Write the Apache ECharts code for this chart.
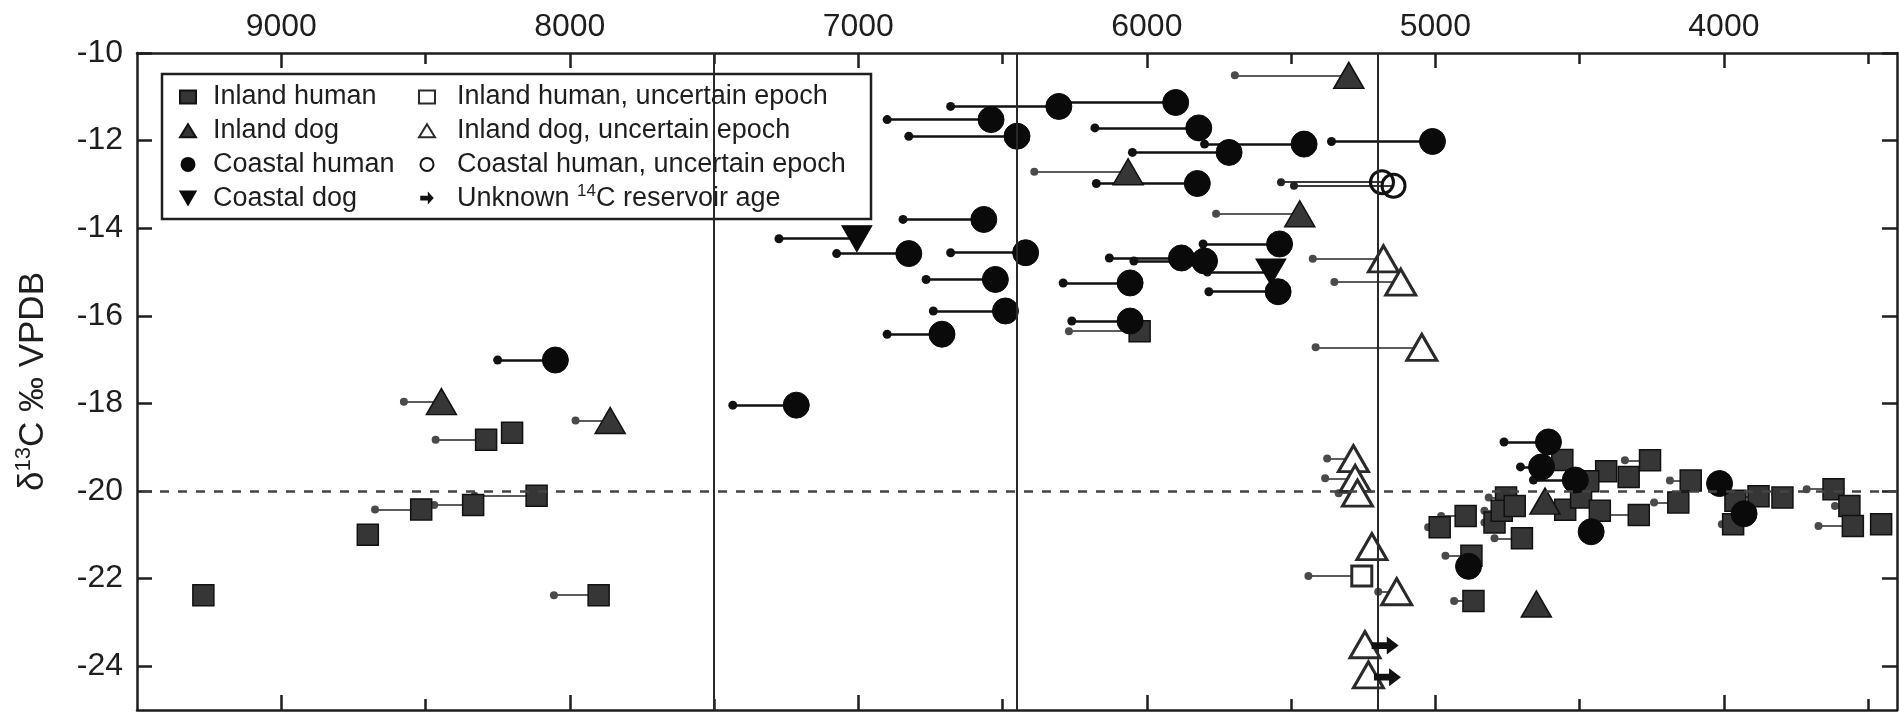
<!DOCTYPE html>
<html>
<head>
<meta charset="utf-8">
<script src="https://cdn.jsdelivr.net/npm/echarts@6/dist/echarts.min.js"></script>
<style>
html,body{margin:0;padding:0;background:#ffffff;}
#chart{width:1899px;height:712px;}
</style>
</head>
<body>
<div id="chart"></div>
<script>
// ---- data: [calibrated age (yr BP), d13C (permil), uncorrected/alternative age at line end (or null)] ----
const inlandHuman = [
  [8290, -18.83, 8465], [8200, -18.67, null], [8115, -20.11, 8330], [8335, -20.32, 8470],
  [8515, -20.42, 8675], [8700, -21.00, null], [9270, -22.38, null], [7900, -22.38, 8055],
  [6025, -16.35, 6270],
  [4985, -20.83, 5025], [4895, -20.57, 4980], [4795, -20.72, 4830], [4755, -20.15, 4815],
  [4770, -20.45, 4830], [4700, -21.08, 4795], [4875, -21.48, 4965], [4868, -22.51, 4935],
  [4725, -20.34, null], [4550, -20.43, null], [4495, -20.15, null], [4430, -20.45, null],
  [4295, -20.55, 4425], [4560, -19.29, null], [4256, -19.30, 4343], [4330, -19.68, null],
  [4408, -19.55, null], [4470, -19.78, null], [4115, -19.76, 4187], [4158, -20.26, 4242],
  [3960, -20.22, null], [3968, -20.76, 4007], [3880, -20.12, 3941], [3797, -20.15, null],
  [3620, -19.96, 3713], [3565, -20.34, 3615], [3553, -20.80, 3672], [3455, -20.76, null]
];
const inlandDog = [
  [8445, -17.96, 8575], [7860, -18.39, 7980], [6065, -12.71, 6390], [5300, -10.51, 5695],
  [5470, -13.67, 5760], [4620, -20.23, null], [4650, -22.58, null]
];
const coastalHuman = [
  [8050, -17.01, 8250], [7215, -18.04, 7435], [6305, -11.22, 6680], [5900, -11.13, 6290],
  [6540, -11.52, 6900], [6450, -11.90, 6825], [5820, -11.71, 6180], [5455, -12.08, 5800],
  [5715, -12.27, 6050], [5010, -12.02, 5360], [5825, -12.98, 6175], [6565, -13.80, 6845],
  [6825, -14.58, 7075], [6420, -14.56, 6680], [6525, -15.17, 6765], [6490, -15.89, 6740],
  [6710, -16.42, 6900], [6058, -15.25, 6290], [6058, -16.12, 6260], [5880, -14.68, 6130],
  [5800, -14.75, 6045], [5540, -14.36, 5805], [5545, -15.45, 5785],
  [4608, -18.88, 4762], [4632, -19.45, 4705], [4515, -19.75, 4660], [4460, -20.93, null],
  [4885, -21.72, null], [4015, -19.83, null], [3930, -20.52, null]
];
const coastalDog = [
  [7005, -14.24, 7275], [5570, -15.00, 5790]
];
const inlandHumanUncertain = [
  [5255, -21.94, 5440]
];
const inlandDogUncertain = [
  [5180, -14.70, 5425], [5120, -15.23, 5350], [5047, -16.72, 5415], [5284, -19.26, 5375],
  [5278, -19.71, 5382], [5270, -20.05, 5335], [5220, -21.27, null], [5134, -22.30, 5198],
  [5244, -23.51, null], [5232, -24.20, null]
];
const coastalHumanUncertain = [
  [5185, -12.95, 5535], [5145, -13.03, 5490]
];
const unknownReservoir = [
  [5174, -23.53], [5166, -24.25]
];
const xMajorTicks = [4000, 5000, 6000, 7000, 8000, 9000];
const xMinorTicks = [3500, 4500, 5500, 6500, 7500, 8500];
const yTicks = [-24, -22, -20, -18, -16, -14, -12, -10];
const epochBoundaries = [7500, 6450, 5200];
const referenceD13C = -20;

// ---- styles ----
const FONT = 'Liberation Sans, Arial, Helvetica, sans-serif';
const INK = '#1e1e1e';
const ARROW = 'path://M0,32 L56,32 L56,2 L100,50 L56,98 L56,68 L0,68 Z';
const DOWN_TRI = 'path://M0,0 L100,0 L50,87 Z';

const groups = [
  {name: 'Inland human', data: inlandHuman, symbol: 'rect', size: 21,
   item: {color: '#363636', borderColor: '#111111', borderWidth: 1.5, opacity: 1}, line: '#5c5c5c', lw: 2, dot: '#4a4a4a', ds: 8},
  {name: 'Inland dog', data: inlandDog, symbol: 'triangle', size: [30, 26],
   item: {color: '#363636', borderColor: '#111111', borderWidth: 1.5, opacity: 1}, line: '#5c5c5c', lw: 2, dot: '#4a4a4a', ds: 8},
  {name: 'Coastal human', data: coastalHuman, symbol: 'circle', size: 26,
   item: {color: '#0a0a0a', borderColor: '#0a0a0a', borderWidth: 1, opacity: 1}, line: '#111111', lw: 2.6, dot: '#111111', ds: 9},
  {name: 'Coastal dog', data: coastalDog, symbol: DOWN_TRI, size: [30, 26],
   item: {color: '#0a0a0a', borderColor: '#0a0a0a', borderWidth: 1, opacity: 1}, line: '#111111', lw: 2.6, dot: '#111111', ds: 9},
  {name: 'Inland human, uncertain epoch', data: inlandHumanUncertain, symbol: 'rect', size: 20,
   item: {color: '#ffffff', borderColor: '#2a2a2a', borderWidth: 3, opacity: 1}, line: '#5c5c5c', lw: 2, dot: '#4a4a4a', ds: 8},
  {name: 'Inland dog, uncertain epoch', data: inlandDogUncertain, symbol: 'triangle', size: [30, 26],
   item: {color: '#ffffff', borderColor: '#2a2a2a', borderWidth: 3, opacity: 1}, line: '#5c5c5c', lw: 2, dot: '#4a4a4a', ds: 8},
  {name: 'Coastal human, uncertain epoch', data: coastalHumanUncertain, symbol: 'circle', size: 23,
   item: {color: 'rgba(255,255,255,0)', borderColor: '#111111', borderWidth: 3, opacity: 1}, line: '#3a3a3a', lw: 2.2, dot: '#222222', ds: 8}
];

const series = [];
series.push({
  type: 'scatter', data: [], silent: true, z: 1, xAxisIndex: 0, yAxisIndex: 0,
  markLine: {
    silent: true, symbol: ['none', 'none'], label: {show: false}, animation: false,
    lineStyle: {color: '#2a2a2a', width: 2, type: 'solid', opacity: 1},
    data: epochBoundaries.map(v => ({xAxis: v})).concat([
      {yAxis: referenceD13C, lineStyle: {color: '#444444', width: 2.5, type: [9, 9]}}
    ])
  }
});
groups.forEach(g => {
  const withDot = g.data.filter(d => d[2] !== null);
  series.push({
    type: 'lines', coordinateSystem: 'cartesian2d', xAxisIndex: 0, yAxisIndex: 0,
    silent: true, z: 2, animation: false,
    lineStyle: {color: g.line, width: g.lw, opacity: 1, curveness: 0},
    data: withDot.map(d => ({coords: [[d[2], d[1]], [d[0], d[1]]]}))
  });
  series.push({
    type: 'scatter', silent: true, z: 3, xAxisIndex: 0, yAxisIndex: 0,
    symbol: 'circle', symbolSize: g.ds, itemStyle: {color: g.dot, opacity: 1},
    data: withDot.map(d => [d[2], d[1]])
  });
});
groups.forEach((g, i) => {
  series.push({
    type: 'scatter', name: g.name, z: 4 + i * 0.01, xAxisIndex: 0, yAxisIndex: 0,
    symbol: g.symbol, symbolSize: g.size, itemStyle: g.item,
    data: g.data.map(d => [d[0], d[1]])
  });
});
series.push({
  type: 'scatter', name: 'Unknown 14C reservoir age', z: 5, xAxisIndex: 0, yAxisIndex: 0,
  symbol: ARROW, symbolSize: [27, 18], itemStyle: {color: '#111111', opacity: 1},
  data: unknownReservoir
});

const axisLineStyle = {color: INK, width: 2.5};
const baseX = {type: 'value', inverse: true, min: 3400, max: 9500, splitLine: {show: false}};
const gridRect = {left: 137, right: 2, top: 53, bottom: 2, outerBoundsMode: 'none'};

const legendTextStyle = pad => ({
  fontSize: 27, fontFamily: FONT, color: INK, lineHeight: 30, padding: [0, 0, 0, pad],
  rich: {sup: {fontSize: 17, fontFamily: FONT, color: INK, verticalAlign: 'top', lineHeight: 18}}
});

const option = {
  animation: false,
  backgroundColor: '#ffffff',
  grid: [Object.assign({}, gridRect), Object.assign({}, gridRect)],
  xAxis: [
    Object.assign({}, baseX, {
      gridIndex: 0, position: 'top',
      axisLine: {show: true, lineStyle: axisLineStyle},
      axisTick: {show: true, inside: true, length: 15, lineStyle: {color: INK, width: 2.5}, customValues: xMajorTicks},
      axisLabel: {show: true, customValues: xMajorTicks, fontSize: 32, fontFamily: FONT, color: INK, margin: 10,
                  formatter: v => String(v)}
    }),
    Object.assign({}, baseX, {
      gridIndex: 0, position: 'bottom',
      axisLine: {show: true, lineStyle: axisLineStyle},
      axisTick: {show: true, inside: true, length: 15, lineStyle: {color: INK, width: 2.5}, customValues: xMajorTicks},
      axisLabel: {show: false}
    }),
    Object.assign({}, baseX, {
      gridIndex: 1, position: 'top',
      axisLine: {show: false},
      axisTick: {show: true, inside: true, length: 11, lineStyle: {color: INK, width: 2.5}, customValues: xMinorTicks},
      axisLabel: {show: false}
    }),
    Object.assign({}, baseX, {
      gridIndex: 1, position: 'bottom',
      axisLine: {show: false},
      axisTick: {show: true, inside: true, length: 11, lineStyle: {color: INK, width: 2.5}, customValues: xMinorTicks},
      axisLabel: {show: false}
    })
  ],
  yAxis: [
    {
      type: 'value', gridIndex: 0, position: 'left', min: -25, max: -10,
      splitLine: {show: false},
      axisLine: {show: true, lineStyle: axisLineStyle},
      axisTick: {show: true, inside: true, length: 15, lineStyle: {color: INK, width: 2.5}, customValues: yTicks},
      axisLabel: {show: true, customValues: yTicks, fontSize: 32, fontFamily: FONT, color: INK, margin: 14},
      name: '{n|δ}{s|13}{n|C ‰ VPDB}',
      nameLocation: 'middle', nameRotate: 90, nameGap: 84,
      nameTextStyle: {
        fontSize: 35, fontFamily: FONT, color: INK,
        rich: {
          n: {fontSize: 35, fontFamily: FONT, color: INK, lineHeight: 40},
          s: {fontSize: 22, fontFamily: FONT, color: INK, verticalAlign: 'top', lineHeight: 24}
        }
      }
    },
    {
      type: 'value', gridIndex: 0, position: 'right', min: -25, max: -10,
      splitLine: {show: false},
      axisLine: {show: true, lineStyle: axisLineStyle},
      axisTick: {show: true, inside: true, length: 15, lineStyle: {color: INK, width: 2.5}, customValues: yTicks},
      axisLabel: {show: false}
    },
    {type: 'value', gridIndex: 1, min: -25, max: -10, show: false}
  ],
  legend: [
    {
      orient: 'vertical', left: 179, top: 82, padding: 0, itemGap: 3.7,
      itemWidth: 16, itemHeight: 13, selectedMode: false, z: 6,
      textStyle: legendTextStyle(12),
      data: ['Inland human', 'Inland dog', 'Coastal human', 'Coastal dog']
    },
    {
      orient: 'vertical', left: 418, top: 82, padding: 0, itemGap: 3.7,
      itemWidth: 16, itemHeight: 13, selectedMode: false, z: 6,
      textStyle: legendTextStyle(17),
      formatter: name => name.replace('14C', '{sup|14}C'),
      data: ['Inland human, uncertain epoch', 'Inland dog, uncertain epoch',
             'Coastal human, uncertain epoch', 'Unknown 14C reservoir age']
    }
  ],
  graphic: [{
    type: 'rect', z: 5, silent: true,
    shape: {x: 162, y: 74, width: 709, height: 145},
    style: {fill: '#ffffff', stroke: INK, lineWidth: 2.5}
  }],
  series: series
};

const chart = echarts.init(document.getElementById('chart'), null, {renderer: 'canvas'});
chart.setOption(option);
</script>
</body>
</html>
